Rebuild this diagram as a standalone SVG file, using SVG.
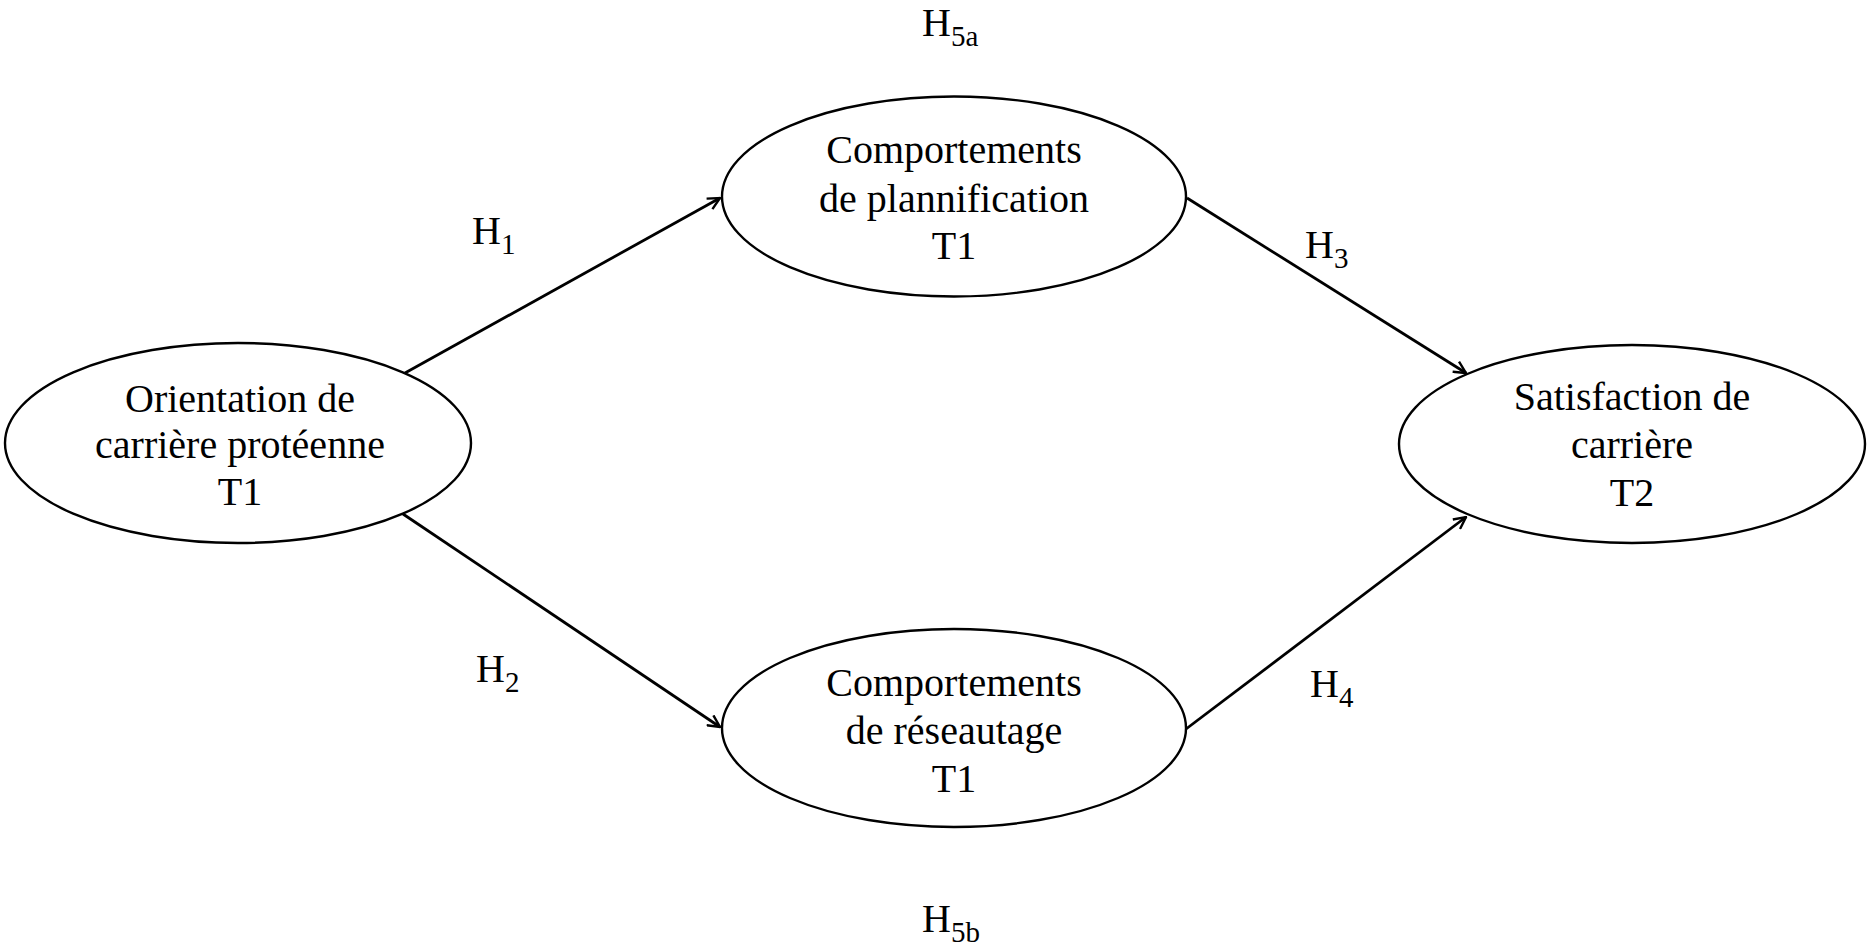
<svg xmlns="http://www.w3.org/2000/svg" width="1867" height="948" viewBox="0 0 1867 948">
<defs>
<style>
.node ellipse{fill:#fff;stroke:#000;stroke-width:2.4}
.node text{font-family:"Liberation Serif","Times New Roman",serif;font-size:40px;fill:#000;text-anchor:middle}
.lbl{font-family:"Liberation Serif","Times New Roman",serif;font-size:40px;fill:#000}
.sub{font-size:29px}
.edge{stroke:#000;stroke-width:2.8;fill:none;marker-end:url(#arr)}
</style>
<marker id="arr" viewBox="0 0 14 14" refX="13" refY="7" markerWidth="14" markerHeight="14" markerUnits="userSpaceOnUse" orient="auto">
<path d="M1,1 L13,7 L1,13" fill="none" stroke="#000" stroke-width="2.4"/>
</marker>
</defs>
<rect width="1867" height="948" fill="#fff"/>
<g id="connectors">
<line class="edge" x1="405" y1="373" x2="720" y2="198"/>
<line class="edge" x1="403" y1="514" x2="720" y2="727"/>
<line class="edge" x1="1187" y1="198" x2="1466" y2="373"/>
<line class="edge" x1="1186" y1="729" x2="1466" y2="517"/>
</g>
<g id="node-orientation" class="node">
<ellipse cx="238" cy="443" rx="233" ry="100"/>
<text x="240" y="412">Orientation de</text>
<text x="240" y="458">carrière protéenne</text>
<text x="240" y="505">T1</text>
</g>
<g id="node-planification" class="node">
<ellipse cx="954" cy="196.5" rx="232" ry="100"/>
<text x="954" y="163">Comportements</text>
<text x="954" y="212">de plannification</text>
<text x="954" y="259">T1</text>
</g>
<g id="node-reseautage" class="node">
<ellipse cx="954" cy="728" rx="232" ry="99"/>
<text x="954" y="696">Comportements</text>
<text x="954" y="744">de réseautage</text>
<text x="954" y="792">T1</text>
</g>
<g id="node-satisfaction" class="node">
<ellipse cx="1632" cy="444" rx="233" ry="99"/>
<text x="1632" y="410">Satisfaction de</text>
<text x="1632" y="458">carrière</text>
<text x="1632" y="506">T2</text>
</g>
<g id="labels">
<text class="lbl" x="472" y="244">H<tspan class="sub" dy="10">1</tspan></text>
<text class="lbl" x="476" y="682">H<tspan class="sub" dy="10">2</tspan></text>
<text class="lbl" x="1305" y="258">H<tspan class="sub" dy="10">3</tspan></text>
<text class="lbl" x="1310" y="697">H<tspan class="sub" dy="10">4</tspan></text>
<text class="lbl" x="922" y="36">H<tspan class="sub" dy="10">5a</tspan></text>
<text class="lbl" x="922" y="932">H<tspan class="sub" dy="10">5b</tspan></text>
</g>
</svg>
